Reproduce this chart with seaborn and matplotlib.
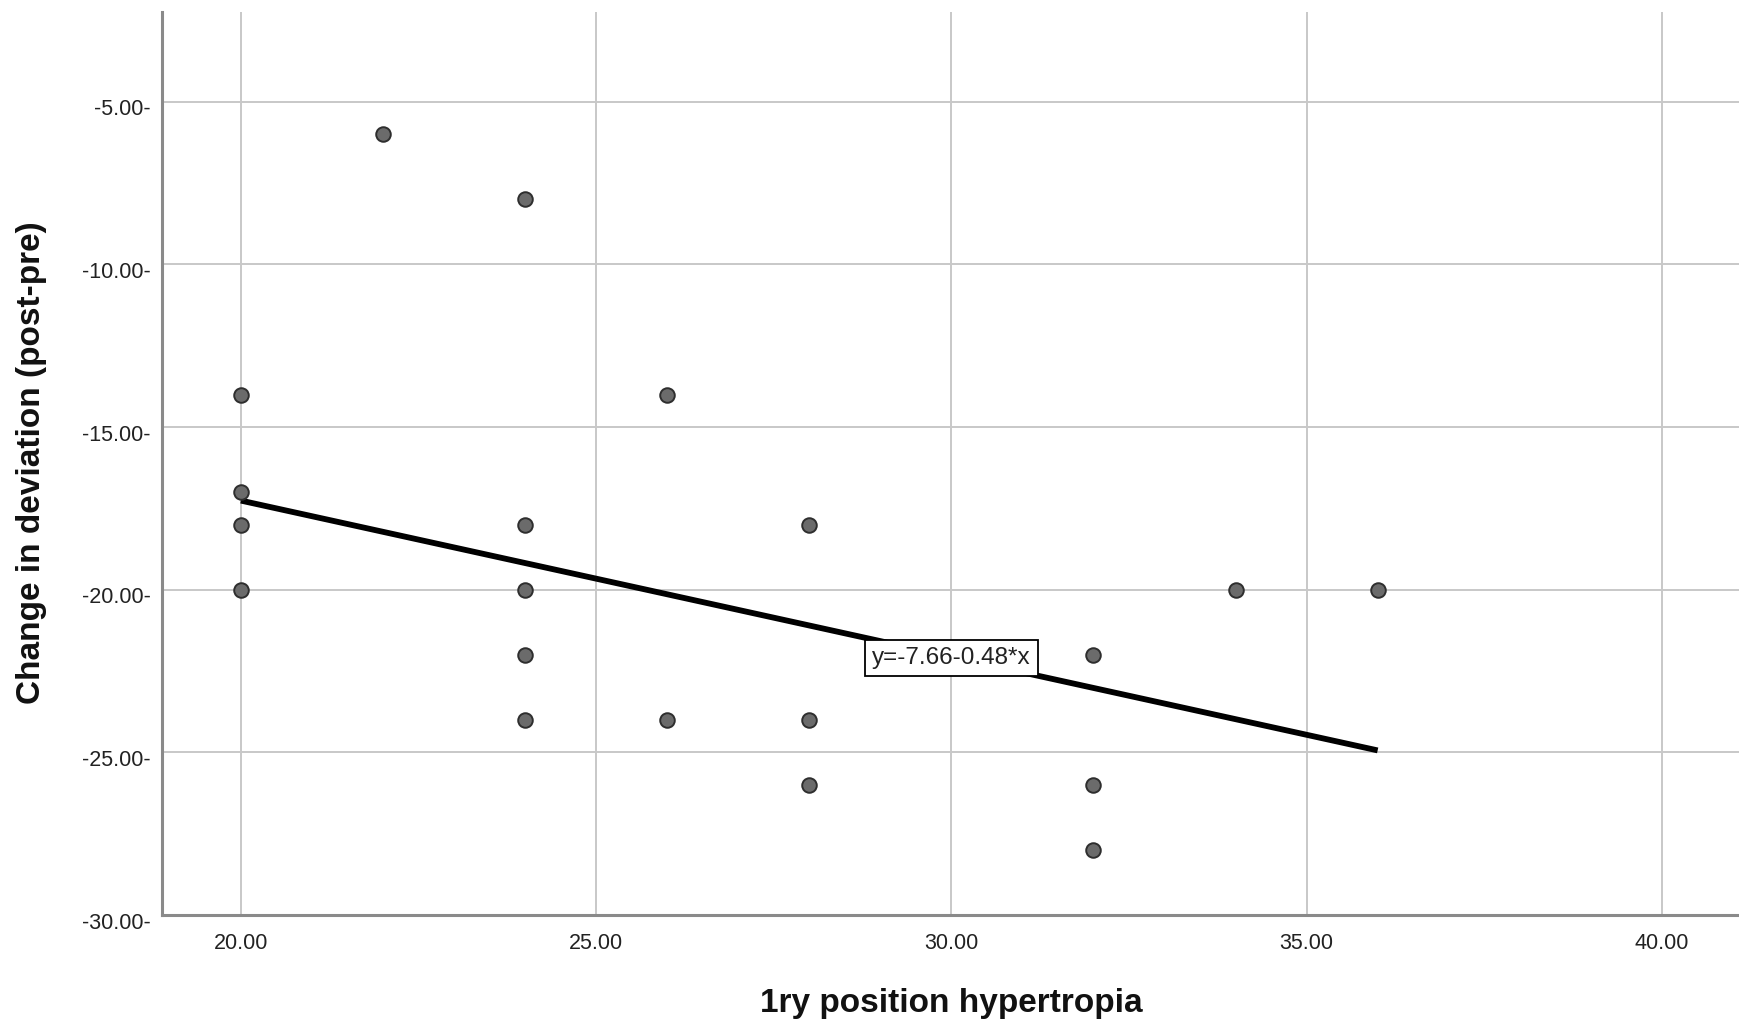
import numpy as np
import pandas as pd
import matplotlib
matplotlib.use("Agg")
import matplotlib.pyplot as plt
import matplotlib.transforms as mtransforms
from matplotlib.ticker import FormatStrFormatter
import seaborn as sns

# --- data ---
hypertropia = [20, 20, 20, 20, 22, 24, 24, 24, 24, 24, 26, 26, 28, 28, 28, 32, 32, 32, 34, 36]
change = [-14, -17, -18, -20, -6, -8, -18, -20, -22, -24, -14, -24, -18, -24, -26, -22, -26, -28, -20, -20]

# fit line shown in the chart label
intercept = -7.66
slope = -0.48
fit_label = "y=-7.66-0.48*x"

x_ticks = [20, 25, 30, 35, 40]
y_ticks = [-5, -10, -15, -20, -25, -30]

df = pd.DataFrame({"x": hypertropia, "y": change})

sns.set_style("white")
plt.rcParams['font.family'] = ['Liberation Sans', 'DejaVu Sans']

W, H = 1740, 1022
fig = plt.figure(figsize=(W / 100, H / 100), dpi=100)
left, right, top, bottom = 162, 1740, 12, 915
ax = fig.add_axes([left / W, (H - bottom) / H, (right - left) / W, (bottom - top) / H])

ax.set_xlim(18.89, 41.1)
ax.set_ylim(-30, -2.24)
ax.set_xticks(x_ticks)
ax.set_yticks(y_ticks)
ax.grid(True, color="#c8c8c8", linewidth=1.4)
ax.set_axisbelow(True)

# regression line from the label's coefficients
xs = np.array([min(hypertropia), max(hypertropia)])
ax.plot(xs, intercept + slope * xs, color="black", linewidth=4.2, zorder=3,
        solid_capstyle="butt")

sns.scatterplot(data=df, x="x", y="y", ax=ax, s=110, color="#6b6b6b",
                edgecolor="#2e2e2e", linewidth=1.4, zorder=4)

ax.text(30.0, -22.1, fit_label, ha="center", va="center", fontsize=17.5,
        color="#222222", zorder=5,
        bbox=dict(boxstyle="square,pad=0.3", facecolor="white",
                  edgecolor="black", linewidth=1.3))

for s in ["top", "right"]:
    ax.spines[s].set_visible(False)
for s in ["left", "bottom"]:
    ax.spines[s].set_color("#8a8a8a")
    ax.spines[s].set_linewidth(2.2)

ax.xaxis.set_major_formatter(FormatStrFormatter("%.2f"))
ax.yaxis.set_major_formatter(FormatStrFormatter("%.2f-"))
ax.tick_params(axis="both", length=0, labelsize=15.5, labelcolor="#222222")
ax.tick_params(axis="x", pad=13)
ax.tick_params(axis="y", pad=8)
off = mtransforms.ScaledTranslation(0, -4 / 72, fig.dpi_scale_trans)
for lab in ax.get_yticklabels():
    lab.set_transform(lab.get_transform() + off)

ax.set_xlabel("")
ax.set_ylabel("")
fig.text(951 / W, 1 - 1003 / H, "1ry position hypertropia", ha="center", va="center",
         fontsize=24, fontweight="bold", color="#111111")
fig.text(32 / W, 1 - 463 / H, "Change in deviation (post-pre)", ha="center", va="center",
         rotation=90, fontsize=24, fontweight="bold", color="#111111")

fig.savefig("out.png", dpi=100, facecolor="white")
